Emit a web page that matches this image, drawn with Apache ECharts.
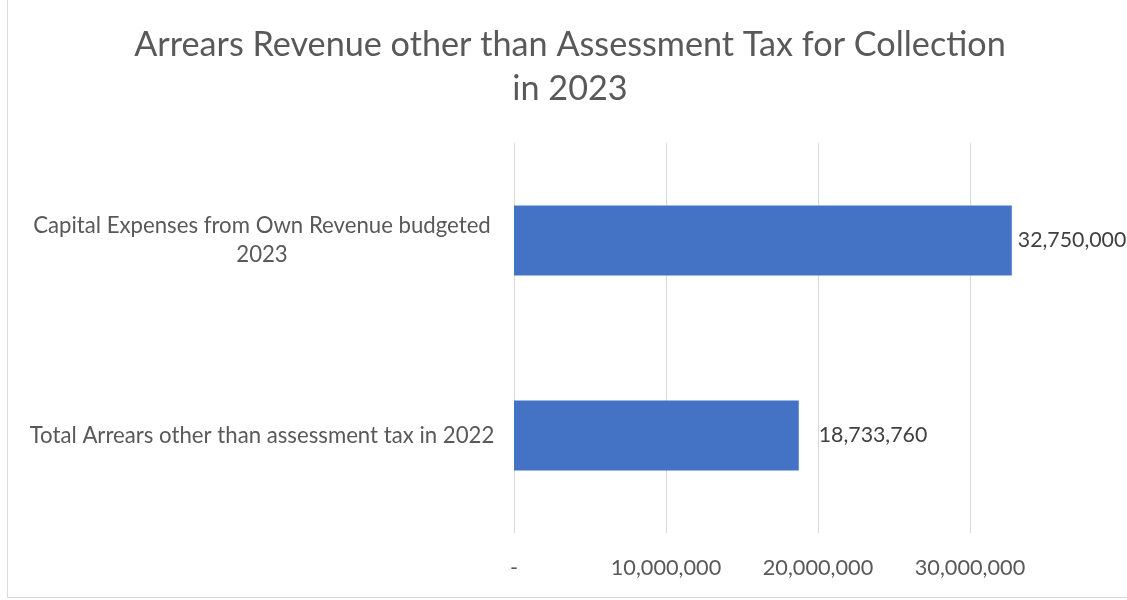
<!DOCTYPE html>
<html><head><meta charset="utf-8">
<script src="https://cdn.jsdelivr.net/npm/echarts@6/dist/echarts.min.js"></script>
<style>html,body{margin:0;padding:0;background:#fff}#c{width:1127px;height:600px}</style>
</head><body><div id="c"></div>
<script>
var categories = ['Total Arrears other than assessment tax in 2022', 'Capital Expenses from Own Revenue budgeted\n2023'];
var values = [18733760, 32750000];
var tickLabels = ['-', '10,000,000', '20,000,000', '30,000,000'];
var titleText = 'Arrears Revenue other than Assessment Tax for Collection\nin 2023';

var chart = echarts.init(document.getElementById('c'));
var font = 'Lato, Carlito, Calibri, sans-serif';
var labelDistances = [20, 6];
chart.setOption({
  animation: false,
  textStyle: {fontFamily: font},
  graphic: [{type: 'rect', shape: {x: 7.5, y: -2, width: 1200, height: 599.5}, style: {fill: null, stroke: '#d9d9d9', lineWidth: 1}, silent: true}],
  title: {text: titleText, left: 565, textAlign: 'center', top: 18, textStyle: {fontFamily: font, fontSize: 34.2, fontWeight: 'normal', color: '#595959', lineHeight: 44}},
  grid: {left: 514, right: 157, top: 143, bottom: 67, containLabel: false},
  xAxis: {
    type: 'value', min: 0, max: 30000000, interval: 10000000,
    axisLine: {show: false}, axisTick: {show: false},
    splitLine: {show: true, lineStyle: {color: '#d9d9d9', width: 1}},
    axisLabel: {color: '#595959', fontSize: 21.7, fontFamily: font, margin: 24,
      formatter: function (v) { return tickLabels[Math.round(v / 10000000)]; }}
  },
  yAxis: {
    type: 'category', data: categories,
    axisLine: {show: false}, axisTick: {show: false}, splitLine: {show: false},
    axisLabel: {color: '#595959', fontSize: 22.2, fontFamily: font, align: 'center', margin: 252, lineHeight: 29}
  },
  series: [{
    type: 'bar', barWidth: 70, clip: false,
    data: values.map(function (v, i) { return {value: v, label: {distance: labelDistances[i]}}; }),
    itemStyle: {color: '#4472C4'},
    label: {show: true, position: 'right', color: '#404040', fontSize: 21.3, fontFamily: font,
      formatter: function (p) { return p.value.toLocaleString('en-US'); }}
  }]
});
</script></body></html>
